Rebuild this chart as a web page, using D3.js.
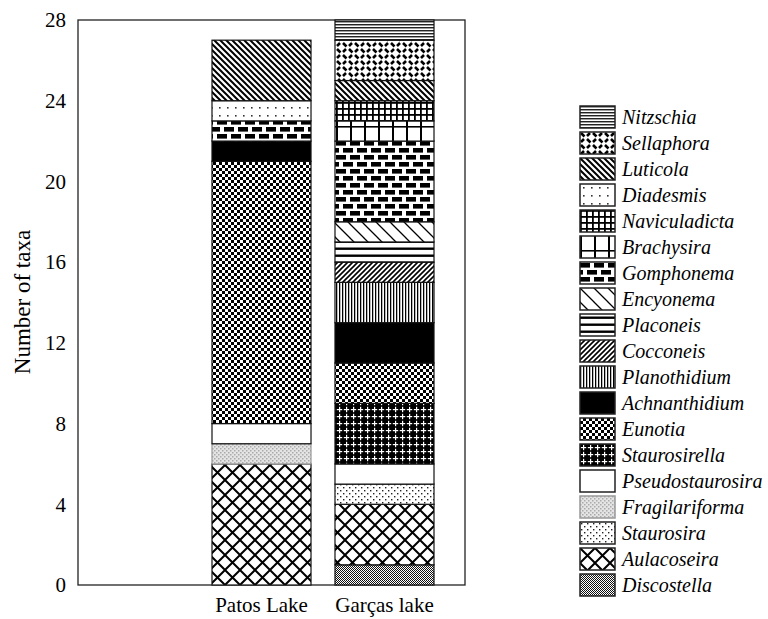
<!DOCTYPE html>
<html>
<head>
<meta charset="utf-8">
<script src="https://cdn.jsdelivr.net/npm/d3@7"></script>
<style>
  body { margin: 0; background: #fff; }
  text { font-family: "Liberation Serif", "Times New Roman", serif; fill: #000; }
</style>
</head>
<body>
<div id="chart"></div>
<script>
// genera, bottom of the stack first
var genera = ["Discostella", "Aulacoseira", "Staurosira", "Fragilariforma", "Pseudostaurosira",
  "Staurosirella", "Eunotia", "Achnanthidium", "Planothidium", "Cocconeis", "Placoneis",
  "Encyonema", "Gomphonema", "Brachysira", "Naviculadicta", "Diadesmis", "Luticola",
  "Sellaphora", "Nitzschia"];
var lakes = ["Patos Lake", "Garças lake"];
var patosValues  = [0, 6, 0, 1, 1, 0, 13, 1, 0, 0, 0, 0, 1, 0, 0, 1, 3, 0, 0];
var garcasValues = [1, 3, 1, 0, 1, 3, 2, 2, 2, 1, 1, 1, 4, 1, 1, 0, 1, 2, 1];
var yTicks = [0, 4, 8, 12, 16, 20, 24, 28];

var width = 768, height = 619,
    margin = {left: 78, right: 303, top: 20, bottom: 34};

var svg = d3.select("#chart").append("svg")
    .attr("width", width).attr("height", height);
var defs = svg.append("defs");

// fill patterns, one per genus
function line(p, d, w) {
  p.append("path").attr("d", d).attr("stroke", "#000").attr("stroke-width", w).attr("fill", "none");
}
function box(p, x, y, w, h, c) {
  p.append("rect").attr("x", x).attr("y", y).attr("width", w).attr("height", h).attr("fill", c || "#000");
}
var patterns = {
  Nitzschia: {w: 4, h: 3, draw: function (p) { box(p, 0, 0, 4, 1.4, "#222"); box(p, 0, 1.4, 4, 0.6, "#999"); }},
  Sellaphora: {w: 12, h: 12, draw: function (p) {
    line(p, "M1,1 L4.5,4.5 M7,7 L10.5,10.5", 2.6);
    line(p, "M7,4 L10,1 M1,10 L4,7", 2.6);
  }},
  Luticola: {w: 6, h: 6, draw: function (p) { line(p, "M-1,-1 L7,7 M-4,2 L2,8 M2,-4 L8,2", 2); }},
  Diadesmis: {w: 8, h: 8, draw: function (p) { box(p, 3, 3, 1.6, 1.6, "#333"); }},
  Naviculadicta: {w: 6, h: 6, draw: function (p) { box(p, 0, 0, 1.8, 6); box(p, 0, 0, 6, 1.8); }},
  Brachysira: {w: 14, h: 16, draw: function (p) { box(p, 0, 0, 2, 16); box(p, 0, 14, 14, 1.6); }},
  Gomphonema: {w: 14, h: 14, draw: function (p) {
    box(p, 0, 1, 10, 4.6); box(p, 7, 8, 10, 4.6); box(p, -7, 8, 10, 4.6);
  }},
  Encyonema: {w: 14, h: 14, draw: function (p) { line(p, "M-1,-1 L15,15 M-8,6 L1,15 M6,-8 L15,1", 1.3); }},
  Placoneis: {w: 4, h: 7, draw: function (p) { box(p, 0, 2.5, 4, 2.4); }},
  Cocconeis: {w: 5, h: 5, draw: function (p) { line(p, "M-1,6 L6,-1 M-3,3 L3,-3 M2,8 L8,2", 1.6); }},
  Planothidium: {w: 3, h: 4, draw: function (p) { box(p, 0, 0, 1.3, 4); box(p, 1.3, 0, 0.7, 4, "#bbb"); }},
  Achnanthidium: {w: 4, h: 4, bg: "#000", draw: function () {}},
  Eunotia: {w: 6, h: 6, bg: "#000", draw: function (p) { box(p, 0, 0, 3, 3, "#fff"); box(p, 3, 3, 3, 3, "#fff"); }},
  Staurosirella: {w: 7, h: 7, bg: "#000", draw: function (p) { box(p, 3, 0.8, 1.2, 5.4, "#fff"); box(p, 0.8, 3, 5.4, 1.2, "#fff"); }},
  Pseudostaurosira: {w: 4, h: 4, draw: function () {}},
  Fragilariforma: {w: 4, h: 4, bg: "#e4e4e4", stroke: "#999", draw: function (p) {
    box(p, 0, 0, 1.5, 1.5, "#aaa"); box(p, 2, 2, 1.5, 1.5, "#aaa");
  }},
  Staurosira: {w: 6, h: 6, draw: function (p) { box(p, 1, 1, 1.4, 1.4, "#222"); box(p, 4, 4, 1.4, 1.4, "#222"); }},
  Aulacoseira: {w: 15, h: 15, draw: function (p) { line(p, "M0,0 L15,15 M15,0 L0,15", 2); }},
  Discostella: {w: 2, h: 2, bg: "#fff", draw: function (p) { box(p, 0, 0, 1, 1, "#111"); box(p, 1, 1, 1, 1, "#111"); }}
};
genera.forEach(function (g) {
  var s = patterns[g];
  var p = defs.append("pattern").attr("id", "pat-" + g)
      .attr("patternUnits", "userSpaceOnUse").attr("width", s.w).attr("height", s.h);
  box(p, 0, 0, s.w, s.h, s.bg || "#fff");
  s.draw(p);
});

// data table for the stack
var table = lakes.map(function (lake, i) {
  var row = {lake: lake};
  var vals = i === 0 ? patosValues : garcasValues;
  genera.forEach(function (g, j) { row[g] = vals[j]; });
  return row;
});
var series = d3.stack().keys(genera)(table);

var y = d3.scaleLinear().domain([0, 28]).range([height - margin.bottom, margin.top]);
var x = d3.scaleBand().domain(lakes).range([212, 434]).paddingInner(0.195).paddingOuter(0);

// frame
svg.append("rect")
    .attr("x", margin.left).attr("y", margin.top)
    .attr("width", width - margin.left - margin.right)
    .attr("height", height - margin.top - margin.bottom)
    .attr("fill", "none").attr("stroke", "#222").attr("stroke-width", 1.3);

// bars
svg.append("g").selectAll("g").data(series).enter().append("g")
    .attr("fill", function (d) { return "url(#pat-" + d.key + ")"; })
    .attr("stroke", function (d) { return patterns[d.key].stroke || "#111"; })
    .selectAll("rect")
    .data(function (d) { return d.filter(function (s) { return s[1] > s[0]; }); })
    .enter().append("rect")
    .attr("x", function (d) { return x(d.data.lake); })
    .attr("y", function (d) { return y(d[1]); })
    .attr("width", x.bandwidth())
    .attr("height", function (d) { return y(d[0]) - y(d[1]); })
    .attr("stroke-width", 1.2);

// y axis labels (no tick marks)
var yAxis = svg.append("g")
    .attr("transform", "translate(" + margin.left + ",0)")
    .call(d3.axisLeft(y).tickValues(yTicks).tickSize(0).tickPadding(12));
yAxis.select(".domain").remove();
yAxis.selectAll("text").attr("font-size", 21).style("font-family", "Liberation Serif");

// x axis labels
var xAxis = svg.append("g")
    .attr("transform", "translate(0," + (height - margin.bottom) + ")")
    .call(d3.axisBottom(x).tickSize(0).tickPadding(12));
xAxis.select(".domain").remove();
xAxis.selectAll("text").attr("font-size", 21).style("font-family", "Liberation Serif");

svg.append("text")
    .attr("transform", "translate(30," + 302 + ") rotate(-90)")
    .attr("text-anchor", "middle")
    .attr("font-size", 23)
    .text("Number of taxa");

// legend, top entry = top of stack
var legend = svg.append("g").selectAll("g").data(genera.slice().reverse()).enter().append("g")
    .attr("transform", function (d, i) { return "translate(580," + (106 + i * 26) + ")"; });
legend.append("rect")
    .attr("width", 35).attr("height", 22)
    .attr("fill", function (d) { return "url(#pat-" + d + ")"; })
    .attr("stroke", function (d) { return patterns[d].stroke || "#222"; })
    .attr("stroke-width", 1.5);
legend.append("text")
    .attr("x", 42).attr("y", 18)
    .attr("font-size", 20).attr("font-style", "italic")
    .text(function (d) { return d; });
</script>
</body>
</html>
